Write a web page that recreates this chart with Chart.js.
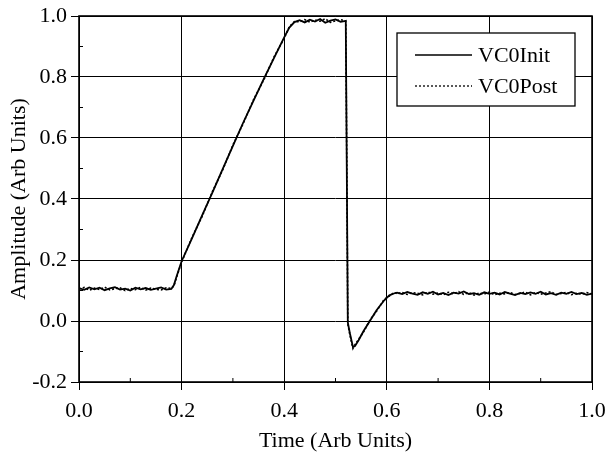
<!DOCTYPE html>
<html>
<head>
<meta charset="utf-8">
<script src="https://cdn.jsdelivr.net/npm/chart.js@4/dist/chart.umd.min.js"></script>
<style>
  html, body { margin: 0; padding: 0; background: #fff; }
  #wrap { width: 605px; height: 459px; }
</style>
</head>
<body>
<div id="wrap"><canvas id="grafico" width="605" height="459"></canvas></div>
<script>
// ---- DATOS ----
const seriesLabels = ["VC0Init", "VC0Post"];
const xTicks = [0.0, 0.2, 0.4, 0.6, 0.8, 1.0];
const yTicks = [-0.2, 0.0, 0.2, 0.4, 0.6, 0.8, 1.0];

const tiempo = [
  0.00, 0.01, 0.02, 0.03, 0.04, 0.05, 0.06, 0.07, 0.08, 0.09,
  0.10, 0.11, 0.12, 0.13, 0.14, 0.15, 0.16, 0.17, 0.18,
  0.185, 0.19, 0.20, 0.22, 0.24, 0.26, 0.28, 0.30, 0.32, 0.34,
  0.36, 0.38, 0.40, 0.41, 0.42,
  0.43, 0.44, 0.45, 0.46, 0.47, 0.48, 0.49, 0.50, 0.51, 0.52,
  0.522, 0.524, 0.528, 0.534, 0.538, 0.545, 0.555, 0.567, 0.58, 0.595, 0.605, 0.615,
  0.62, 0.63, 0.64, 0.65, 0.66, 0.67, 0.68, 0.69, 0.70, 0.71,
  0.72, 0.73, 0.74, 0.75, 0.76, 0.77, 0.78, 0.79, 0.80, 0.81,
  0.82, 0.83, 0.84, 0.85, 0.86, 0.87, 0.88, 0.89, 0.90, 0.91,
  0.92, 0.93, 0.94, 0.95, 0.96, 0.97, 0.98, 0.99, 1.00
];

const vc0Init = [
  0.108, 0.102, 0.110, 0.104, 0.109, 0.101, 0.107, 0.111, 0.103, 0.106,
  0.100, 0.109, 0.104, 0.108, 0.102, 0.106, 0.110, 0.103, 0.105,
  0.118, 0.145, 0.196, 0.270, 0.346, 0.421, 0.498, 0.574, 0.650, 0.722,
  0.793, 0.862, 0.930, 0.962, 0.980,
  0.986, 0.979, 0.988, 0.982, 0.990, 0.978, 0.985, 0.989, 0.981, 0.984,
  0.500, -0.005, -0.040, -0.085, -0.082, -0.063, -0.032, 0.000, 0.035, 0.068, 0.084, 0.091,
  0.093, 0.088, 0.095, 0.090, 0.086, 0.094, 0.089, 0.096, 0.087, 0.092,
  0.085, 0.093, 0.090, 0.097, 0.088, 0.091, 0.086, 0.094, 0.089, 0.093,
  0.087, 0.095, 0.090, 0.085, 0.092, 0.088, 0.094, 0.089, 0.096, 0.087,
  0.091, 0.086, 0.093, 0.089, 0.095, 0.088, 0.092, 0.086, 0.090
];

const vc0Post = [
  0.104, 0.110, 0.101, 0.108, 0.103, 0.111, 0.102, 0.106, 0.109, 0.100,
  0.107, 0.103, 0.110, 0.101, 0.108, 0.104, 0.102, 0.109, 0.107,
  0.115, 0.142, 0.193, 0.273, 0.343, 0.424, 0.495, 0.577, 0.647, 0.725,
  0.790, 0.865, 0.927, 0.965, 0.982,
  0.981, 0.988, 0.980, 0.987, 0.983, 0.991, 0.979, 0.984, 0.988, 0.983,
  0.520, -0.010, -0.045, -0.090, -0.078, -0.060, -0.035, 0.003, 0.032, 0.071, 0.082, 0.094,
  0.089, 0.094, 0.087, 0.093, 0.091, 0.086, 0.095, 0.088, 0.092, 0.086,
  0.094, 0.089, 0.096, 0.087, 0.093, 0.085, 0.092, 0.088, 0.095, 0.086,
  0.091, 0.089, 0.094, 0.087, 0.090, 0.095, 0.086, 0.093, 0.088, 0.092,
  0.096, 0.087, 0.090, 0.094, 0.086, 0.091, 0.088, 0.093, 0.089
];

const FUENTE = "'Liberation Serif', 'Times New Roman', serif";
const TAM = 22;

// ---- MARCO, TICKS MENORES Y LEYENDA ----
const marcoPlugin = {
  id: "marco",
  afterDraw(chart) {
    const { ctx, chartArea: a, scales } = chart;
    ctx.save();
    ctx.strokeStyle = "#000";
    ctx.lineWidth = 1.6;
    ctx.strokeRect(a.left, a.top, a.right - a.left, a.bottom - a.top);

    // ticks menores hacia dentro
    ctx.lineWidth = 1;
    ctx.beginPath();
    for (let i = 0; i < xTicks.length - 1; i++) {
      const px = scales.x.getPixelForValue((xTicks[i] + xTicks[i + 1]) / 2);
      ctx.moveTo(px, a.bottom);
      ctx.lineTo(px, a.bottom - 4);
    }
    for (let i = 0; i < yTicks.length - 1; i++) {
      const py = scales.y.getPixelForValue((yTicks[i] + yTicks[i + 1]) / 2);
      ctx.moveTo(a.left, py);
      ctx.lineTo(a.left + 4, py);
    }
    ctx.stroke();

    // leyenda
    const bx = 397, by = 33, bw = 178, bh = 73;
    ctx.fillStyle = "#fff";
    ctx.fillRect(bx, by, bw, bh);
    ctx.lineWidth = 1.3;
    ctx.strokeRect(bx, by, bw, bh);
    ctx.font = TAM + "px " + FUENTE;
    ctx.textBaseline = "middle";
    ctx.fillStyle = "#000";
    chart.data.datasets.forEach((ds, i) => {
      const y = by + 22 + i * 31;
      ctx.beginPath();
      ctx.lineWidth = 1.3;
      ctx.setLineDash(ds.borderDash || []);
      ctx.moveTo(bx + 18, y);
      ctx.lineTo(bx + 75, y);
      ctx.stroke();
      ctx.setLineDash([]);
      ctx.fillText(ds.label, bx + 81, y + 1);
    });
    ctx.restore();
  }
};

const ctx = document.getElementById("grafico").getContext("2d");
const grafico = new Chart(ctx, {
  type: "line",
  data: {
    datasets: [
      {
        label: seriesLabels[0],
        data: tiempo.map((t, i) => ({ x: t, y: vc0Init[i] })),
        borderColor: "#000",
        borderWidth: 1.8,
        pointRadius: 0,
        tension: 0,
        fill: false
      },
      {
        label: seriesLabels[1],
        data: tiempo.map((t, i) => ({ x: t, y: vc0Post[i] })),
        borderColor: "#000",
        borderWidth: 1.6,
        borderDash: [2, 2],
        pointRadius: 0,
        tension: 0,
        fill: false
      }
    ]
  },
  options: {
    responsive: false,
    animation: false,
    layout: { padding: { top: 16, right: 13, left: 0, bottom: 0 } },
    plugins: {
      legend: { display: false },
      tooltip: { enabled: false }
    },
    scales: {
      x: {
        type: "linear",
        min: 0,
        max: 1,
        afterBuildTicks: s => { s.ticks = xTicks.map(v => ({ value: v })); },
        afterFit: s => { s.height = 77; s.paddingLeft = 0; s.paddingRight = 0; },
        ticks: {
          color: "#000",
          font: { family: FUENTE, size: TAM },
          padding: 8,
          maxRotation: 0,
          callback: v => Number(v).toFixed(1)
        },
        grid: { color: "#000", lineWidth: 1, tickLength: 8, drawOnChartArea: true },
        border: { display: false },
        title: {
          display: true,
          text: "Time (Arb Units)",
          color: "#000",
          font: { family: FUENTE, size: TAM },
          padding: { top: 0, bottom: 5 }
        }
      },
      y: {
        min: -0.2,
        max: 1.0,
        afterBuildTicks: s => { s.ticks = yTicks.map(v => ({ value: v })); },
        afterFit: s => { s.width = 79; s.paddingTop = 0; s.paddingBottom = 0; },
        ticks: {
          color: "#000",
          font: { family: FUENTE, size: TAM },
          padding: 4,
          callback: v => Number(v).toFixed(1)
        },
        grid: { color: "#000", lineWidth: 1, tickLength: 8, drawOnChartArea: true },
        border: { display: false },
        title: {
          display: true,
          text: "Amplitude (Arb Units)",
          color: "#000",
          font: { family: FUENTE, size: TAM },
          padding: { top: 6, bottom: 0 }
        }
      }
    }
  },
  plugins: [marcoPlugin]
});
</script>
</body>
</html>
